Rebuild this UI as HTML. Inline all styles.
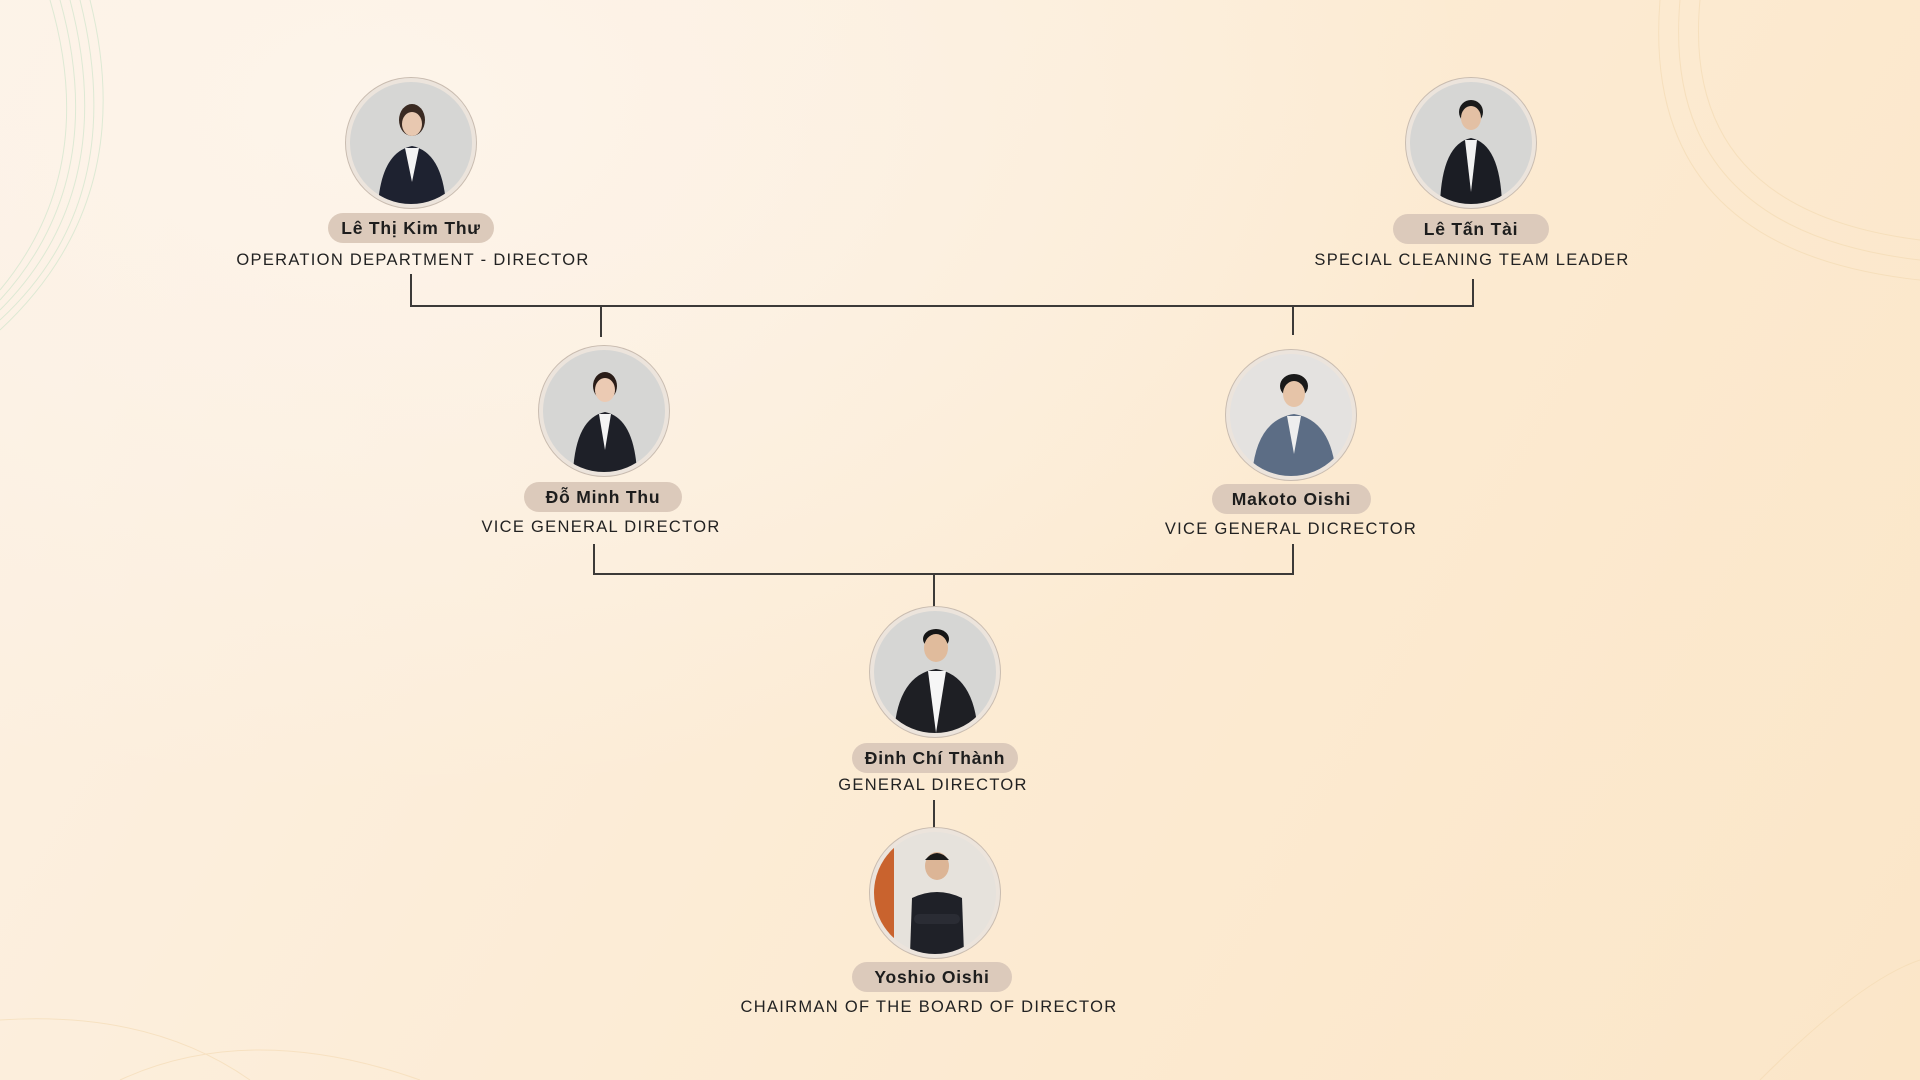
<!DOCTYPE html>
<html><head><meta charset="utf-8"><style>
html,body{margin:0;padding:0}
body{width:1920px;height:1080px;position:relative;overflow:hidden;font-family:"Liberation Sans",sans-serif;
background:radial-gradient(ellipse at 20% 10%,#fdf4ea 0%,rgba(253,244,234,0) 50%),linear-gradient(120deg,#fcf1e4 0%,#fcebd3 55%,#fbe6c8 100%);}
.ph{position:absolute;width:122px;height:122px;border-radius:50%;border:4px solid #ece4dc;overflow:hidden;background:#d6d6d4;box-shadow:0 0 0 1px #c9bcb0}
.ph svg{display:block}
.pill{position:absolute;height:30px;border-radius:15px;background:#dccabb;font-weight:bold;font-size:17.5px;color:#1d1d1d;text-align:center;line-height:30px;letter-spacing:0.8px}
.t{position:absolute;width:600px;text-align:center;font-size:16.5px;letter-spacing:1.3px;color:#222}
.l{position:absolute;background:#3c3a38}
</style></head><body>
<svg width="1920" height="1080" style="position:absolute;left:0;top:0" fill="none">
<g stroke="#bfe0c2" stroke-width="1" opacity="0.5">
<path d="M0 330 Q140 200 90 0"/><path d="M0 320 Q130 200 80 0"/><path d="M0 310 Q120 190 70 0"/><path d="M0 300 Q110 180 60 0"/><path d="M0 290 Q100 170 50 0"/>
</g>
<g stroke="#f3d9b0" stroke-width="1" opacity="0.6">
<path d="M1660 0 Q1640 250 1920 280"/><path d="M1680 0 Q1660 230 1920 260"/><path d="M1700 0 Q1680 210 1920 240"/>
<path d="M0 1020 Q150 1010 250 1080"/><path d="M120 1080 Q250 1020 420 1080"/><path d="M1760 1080 Q1860 980 1920 960"/>
</g>
</svg>

<div class="l" style="left:410px;top:274px;width:2px;height:33px"></div>
<div class="l" style="left:410px;top:305px;width:1064px;height:2px"></div>
<div class="l" style="left:1472px;top:279px;width:2px;height:28px"></div>
<div class="l" style="left:600px;top:305px;width:2px;height:32px"></div>
<div class="l" style="left:1292px;top:305px;width:2px;height:30px"></div>
<div class="l" style="left:593px;top:544px;width:2px;height:31px"></div>
<div class="l" style="left:593px;top:573px;width:701px;height:2px"></div>
<div class="l" style="left:1292px;top:544px;width:2px;height:31px"></div>
<div class="l" style="left:933px;top:573px;width:2px;height:36px"></div>
<div class="l" style="left:933px;top:800px;width:2px;height:28px"></div>

<div class="ph" style="left:346px;top:78px"><svg width="122" height="122"><ellipse cx="62" cy="38" rx="13" ry="16" fill="#3a2a22"/><ellipse cx="62" cy="42" rx="10" ry="12" fill="#e8c8b0"/><path d="M28 122 Q32 70 62 64 Q92 70 96 122Z" fill="#1e2230"/><path d="M55 66 L62 100 L69 66Z" fill="#f4f4f4"/></svg></div>
<div class="pill" style="left:328px;top:213px;width:166px">Lê Thị Kim Thư</div>
<div class="t" style="left:113px;top:251px">OPERATION DEPARTMENT - DIRECTOR</div>

<div class="ph" style="left:1406px;top:78px"><svg width="122" height="122"><ellipse cx="61" cy="30" rx="12" ry="12" fill="#1a1a1a"/><ellipse cx="61" cy="36" rx="10" ry="12" fill="#e3c0a4"/><path d="M30 122 Q32 62 61 56 Q90 62 92 122Z" fill="#1b1d24"/><path d="M55 58 L61 110 L67 58Z" fill="#f2f2f2"/></svg></div>
<div class="pill" style="left:1393px;top:214px;width:156px">Lê Tấn Tài</div>
<div class="t" style="left:1172px;top:251px">SPECIAL CLEANING TEAM LEADER</div>

<div class="ph" style="left:539px;top:346px"><svg width="122" height="122"><ellipse cx="62" cy="36" rx="12" ry="14" fill="#2a1d18"/><ellipse cx="62" cy="40" rx="10" ry="12" fill="#ebcab3"/><path d="M30 122 Q33 68 62 62 Q91 68 94 122Z" fill="#1e2028"/><path d="M56 64 L62 100 L68 64Z" fill="#f4f4f4"/></svg></div>
<div class="pill" style="left:524px;top:482px;width:158px">Đỗ Minh Thu</div>
<div class="t" style="left:301px;top:518px">VICE GENERAL DIRECTOR</div>

<div class="ph" style="left:1226px;top:350px;background:#e4e2e0"><svg width="122" height="122"><ellipse cx="64" cy="32" rx="14" ry="12" fill="#1a1a1a"/><ellipse cx="64" cy="40" rx="11" ry="13" fill="#e6c4a8"/><path d="M22 122 Q26 66 64 60 Q102 66 106 122Z" fill="#5c6d85"/><path d="M57 62 L64 100 L71 62Z" fill="#eeeeee"/></svg></div>
<div class="pill" style="left:1212px;top:484px;width:159px">Makoto Oishi</div>
<div class="t" style="left:991px;top:520px">VICE GENERAL DICRECTOR</div>

<div class="ph" style="left:870px;top:607px"><svg width="122" height="122"><ellipse cx="62" cy="28" rx="13" ry="10" fill="#151515"/><ellipse cx="62" cy="37" rx="12" ry="14" fill="#e0bb9c"/><path d="M20 122 Q24 64 62 58 Q100 64 104 122Z" fill="#1e1f24"/><path d="M54 60 L62 122 L72 60Z" fill="#f6f6f6"/></svg></div>
<div class="pill" style="left:852px;top:743px;width:166px">Đinh Chí Thành</div>
<div class="t" style="left:633px;top:776px">GENERAL DIRECTOR</div>

<div class="ph" style="left:870px;top:828px;background:#e6e2dc"><svg width="122" height="122"><rect x="0" y="0" width="20" height="122" fill="#c9632e"/><ellipse cx="63" cy="34" rx="12" ry="14" fill="#dcb596"/><path d="M51 28 Q63 14 75 28" fill="#1a1a1a"/><path d="M36 122 L38 66 Q63 54 88 66 L90 122Z" fill="#1f2128"/><rect x="40" y="82" width="46" height="10" rx="5" fill="#2a2c34"/></svg></div>
<div class="pill" style="left:852px;top:962px;width:160px">Yoshio Oishi</div>
<div class="t" style="left:629px;top:998px">CHAIRMAN OF THE BOARD OF DIRECTOR</div>
</body></html>
